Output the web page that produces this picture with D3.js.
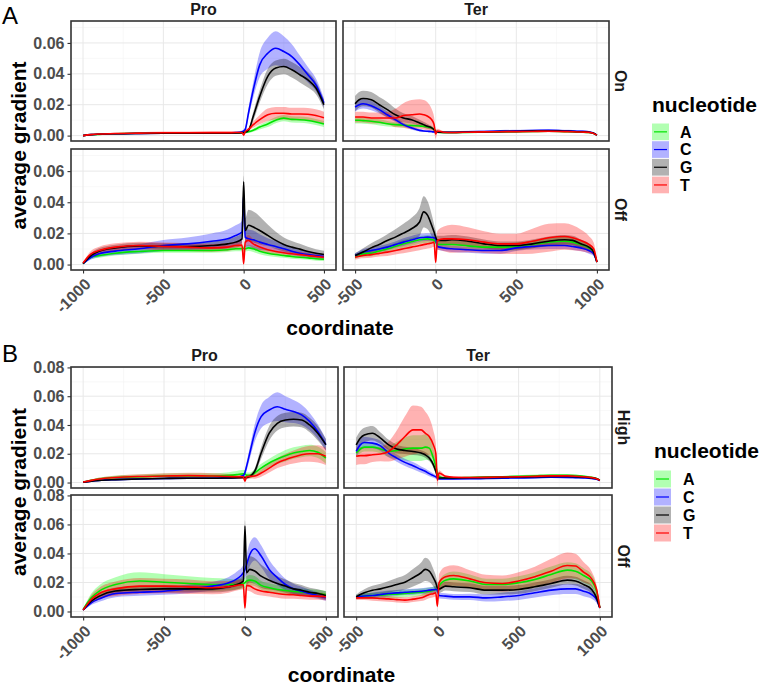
<!DOCTYPE html>
<html>
<head>
<meta charset="utf-8">
<script src="https://cdn.jsdelivr.net/npm/d3@7"></script>
<style>
body { margin: 0; background: #fff; }
svg { display: block; font-family: "Liberation Sans", Arial, sans-serif; }
</style>
</head>
<body>
<svg id="chart" width="762" height="685"></svg>
<script>
// values are average gradient x 1000, one row per nucleotide (A, C, G, T)
var nucleotides = ["A", "C", "G", "T"];
var proCoord = [-1000,-950,-900,-800,-650,-500,-350,-200,-100,-50,-10,0,10,30,60,100,150,200,250,300,350,400,450,500];
var terCoord = [-500,-475,-450,-400,-350,-300,-250,-200,-150,-100,-75,-50,-25,-10,0,10,50,100,200,300,400,500,600,700,800,850,900,950,980,1000];
var proTicks = [-1000, -500, 0, 500], proMinor = [-750, -250, 250];
var terTicks = [-500, 0, 500, 1000], terMinor = [-250, 250, 750];

// panel A, Pro, On
var aProOn = [
  [0,0.5,0.8,1.2,1.5,1.6,1.6,1.6,1.6,1.6,1.8,2,2.2,2.5,3.5,5.5,7.5,10,11.3,10.5,10.3,9.8,8.8,7.5],
  [0,0.6,0.9,1.2,1.4,1.5,1.5,1.5,1.6,1.9,2.5,3,4,14.6,29.7,45.8,53.3,56.6,54.4,51.2,45.8,39.4,32.9,21.2],
  [0,0.6,0.9,1.2,1.4,1.5,1.5,1.5,1.6,1.7,1.9,2,2.2,3.4,12.5,25.4,38.3,43.7,44.7,42.6,39.4,36.1,30.8,20],
  [0,0.6,1,1.4,1.6,1.8,1.8,1.9,1.9,2,2,0.3,2.5,4,7.1,10.3,13.5,14.5,14.5,14,14,13.8,13,11.5]
];
var aProOnSd = [
  [0,0.2,0.3,0.4,0.5,0.5,0.5,0.5,0.5,0.5,0.5,0.6,0.7,0.8,1,1.5,2,2,2,2,2,2,2,2],
  [0,0.2,0.3,0.4,0.5,0.5,0.5,0.5,0.5,0.6,0.8,1,1.5,3,5,8,10,11,10,8,6,5,4,3],
  [0,0.2,0.3,0.4,0.5,0.5,0.5,0.5,0.5,0.5,0.6,0.7,0.8,1,3,4,5,5,5,5,5,5,4,3],
  [0,0.2,0.4,0.5,0.6,0.8,0.8,0.8,0.7,0.7,0.7,0.7,0.8,1,2,3,4,4,4,4,4,4,4,4]
];
// panel A, Ter, On
var aTerOn = [
  [9.9,9.9,9.7,9.3,8.6,7.7,7.1,6.7,6.5,6.2,6,5.6,5,3.9,2.8,2.2,2.0,2.0,2.1,2.3,2.5,2.6,2.7,2.8,2.6,2.5,2.3,2.0,1.4,0.3],
  [18.5,20,20.6,19.4,16.8,13.5,10.3,7.1,5,3.4,3,2.8,2.6,2.4,2.2,2.3,2.2,2.2,2.5,2.7,2.9,3.1,3.3,3.4,3.1,3,2.8,2.4,1.6,0.3],
  [20.6,23.2,24,23.2,20,16.8,13.5,11.4,10.3,8.2,7.1,6,5,3.9,2.8,2.3,2.0,2.0,2.2,2.4,2.6,2.7,2.9,3.0,2.8,2.7,2.5,2.2,1.5,0.3],
  [12,12,12,11.4,11.4,11.4,11.4,13,13.5,14,13.5,12.5,10.3,7.1,1,3,2.2,2.0,2.2,2.4,2.5,2.6,2.7,2.8,2.6,2.5,2.3,2.1,1.4,0.3]
];
var aTerOnSd = [
  [2,2,2,2,2,1.8,1.6,1.4,1.2,1,1,1,0.9,0.8,0.6,0.5,0.5,0.5,0.5,0.5,0.5,0.5,0.5,0.5,0.5,0.5,0.5,0.5,0.4,0.2],
  [3,3,3,3,2.5,2,1.5,1.2,1,0.8,0.7,0.6,0.6,0.5,0.5,0.5,0.5,0.5,0.6,0.6,0.7,0.7,0.7,0.8,0.7,0.7,0.6,0.5,0.4,0.2],
  [5,5,5,5,5,5,4,3,2.5,2,1.8,1.5,1.2,1,0.8,0.5,0.5,0.5,0.5,0.5,0.5,0.5,0.5,0.5,0.5,0.5,0.5,0.5,0.4,0.2],
  [3.5,3.5,3.5,3.5,3.5,4,6,8,9.5,9.5,9.5,9,7,5,3,1.5,0.7,0.6,0.6,0.6,0.6,0.6,0.6,0.6,0.6,0.6,0.6,0.5,0.4,0.2]
];
// panel A, Pro, Off
var aProOff = [
  [0.6,4.7,5.8,7.3,8.4,9,9,9,9.5,10.1,10.1,10.5,10.1,10.7,10.1,8.6,7.3,6.4,5.8,5.2,4.7,4.3,3.7,3.4],
  [0.6,4.7,6.9,8.6,10.1,12.2,13.3,15,16.5,18.7,20.9,44.6,17.6,16.5,15.9,14.4,12.9,11.6,10.1,8.6,7.3,6.4,5.8,5.2],
  [0.6,5.8,8.6,10.7,12,11.6,11.6,12.2,13.3,14.4,16.5,53.2,21.9,25.2,24.1,21.9,18.7,15.5,12.9,11.2,9.9,8.4,7.3,6.4],
  [1,6.9,9,11.2,12.2,11.6,11.2,10.7,11.2,12.2,12.5,0.6,14.4,15.5,13.3,11.2,9.5,8.4,7.6,6.9,6.4,5.8,5.2,4.7]
];
var aProOffSd = [
  [0.3,1.2,1.5,1.5,1.5,1.5,1.5,1.5,1.5,1.5,1.5,1.5,1.8,2,2,2,1.8,1.6,1.5,1.4,1.3,1.2,1.2,1.2],
  [0.3,1.5,2,2.5,3,3.5,4,5,6,6.5,7,4,6,6,6,5,4,3.5,3,2.5,2,2,1.8,1.5],
  [0.3,1.5,2,2,2,2,2,2.5,3,3.5,4,4,8,10,10,9,7,5.5,4.5,4,3.5,3,2.5,2.5],
  [0.3,2,2.5,2.5,2.5,2.5,2.5,2.5,2.5,2.5,2.5,1,3,3.5,3,2.5,2.2,2,2,1.8,1.8,1.6,1.5,1.5]
];
// panel A, Ter, Off
var aTerOff = [
  [5.2,6.2,7,7.3,8.7,10.1,11.7,13.3,14.6,15.9,16.2,16.5,16,15.5,14.4,12.9,12.9,12.9,12,11.2,11.2,11.6,12.9,14.4,15,14.4,12.9,10.7,8,1.6],
  [5.8,7,8,9,10,11.2,12.8,14.4,15.8,17.2,17.4,17.6,17.4,17.2,16.5,11.6,10.7,10.1,9.5,9,9,10.7,11.6,12.2,12.2,11.6,10.7,9,6.9,1.6],
  [5.8,6.9,8,10.7,12.9,15.5,17.6,20.2,23,27.3,33.8,31.6,25.2,20.9,17.6,15.5,15.5,15.9,15,13.3,12.2,12.2,13.3,15,15.9,15.5,13.3,11.2,8,1.6],
  [4.7,5.3,5.8,6.4,7.2,8,9,10.1,11.2,12.2,12.8,13.3,13.8,14.4,1.5,15.5,16.5,16.5,15.9,14.4,13.3,13.3,15,17.2,18,17.2,15.5,12.9,10.1,1.6]
];
var aTerOffSd = [
  [1.5,1.5,2,2,2,2,2,2.5,2.5,2.5,2.5,2.5,2.5,2.5,2.5,2.5,2.5,2.5,2.5,2.5,2.5,2.5,2.5,2.8,2.8,2.8,2.5,2.5,2,0.5],
  [1.5,1.5,2,2,2,2,2,2.5,2.5,2.5,2.5,2.5,2.5,2.5,2.5,2,2,2,2,2,2,2,2,2.2,2.2,2.2,2,2,1.5,0.5],
  [1.5,2,2.5,3,3.5,4,5,6,7,9,10,9,7,5,4,3,3,3,3,2.8,2.6,2.6,2.8,3,3,3,2.8,2.5,2,0.5],
  [1.5,1.5,1.8,2,2,2.5,2.5,2.8,3,3,3,3,3,3,1,6,8,9,8,7,6.5,6.5,8,9,8.5,8,7,5.5,4,1]
];
// panel B, Pro, High
var bProHigh = [
  [0.3,1.5,2.5,3.5,4,4.5,4.5,4.5,5,5.5,6,6,5,5,6.6,10,13.6,16.3,18.6,20.5,21.6,22.3,21,17],
  [0.3,1,1.5,2,2.5,2.8,3,3,3.2,3.5,5,7,11.2,20.5,34.3,45.8,50.4,52.7,50.9,49.3,47,42.4,35.5,26.3],
  [0.3,1,1.5,2,2.5,2.8,3,3,3.2,3.3,3.5,3.5,3.5,4.3,7.7,20.5,34.3,41.2,43.5,44,43.5,40,34.3,26.3],
  [0.3,1.5,2.5,3.5,4.2,4.5,4.8,4.5,4.2,4,4,1,4,4.3,4.5,6.6,10,13.6,15.9,17.7,19.3,20,20,18.2]
];
var bProHighSd = [
  [0.2,0.6,1,1.3,1.5,1.8,2,2,2.2,2.5,2.8,2.5,2,2,2.5,3,3,3.5,4,4,4,4,4,4],
  [0.2,0.3,0.4,0.5,0.5,0.6,0.6,0.6,0.7,0.8,1.2,2,3,4,6,8,9,10,9,8,7,6,5,4],
  [0.2,0.3,0.4,0.5,0.5,0.6,0.6,0.6,0.7,0.8,0.9,1,1,1.2,2,4,5,5,5,5,5,5,5,4],
  [0.2,0.6,1,1.3,1.6,2,2,2,1.8,1.6,1.5,1,1.5,1.5,1.8,2.5,3,3.5,4,4.5,5,5.5,6,6]
];
// panel B, Ter, High
var bTerHigh = [
  [20.5,23.3,24.6,24.6,23.3,21.6,22.3,23.3,23.9,23.9,24.6,23.9,17,11.2,6.6,4.3,3.2,3.2,3.5,3.8,4,4.3,4.7,5.1,5.1,4.8,4.3,3.6,2.8,1.6],
  [21.6,26.2,27.8,27.4,25.5,20.5,17,14,11.7,9,7.8,6.2,4.8,3.9,3.2,2.5,2.5,2.5,2.6,2.8,3,3.2,3.4,3.7,3.6,3.4,3.2,2.8,2.3,1.4],
  [26.2,30.8,33.1,34.3,30.8,26.2,23.3,22.3,21.6,20.5,19.3,17,12.4,7.8,4.3,3.2,3.2,3.2,3.3,3.4,3.6,3.8,4,4.3,4.2,4,3.8,3.2,2.6,1.6],
  [18.2,18.7,18.7,19.3,19.8,21.6,26.2,32,36.6,36.6,34.3,32,26.2,20.5,1.6,6.6,4.3,3.7,3.5,3.6,3.8,4,4.3,4.6,4.6,4.4,4,3.4,2.6,1.5]
];
var bTerHighSd = [
  [3,3,3,3,3,4,6,8,9,9,9,8.5,7,5,3,1,0.6,0.6,0.6,0.6,0.6,0.7,0.8,0.8,0.8,0.8,0.7,0.6,0.4,0.2],
  [4,4,4,3.5,3.5,3,2.5,2.5,2.5,2.2,2,1.8,1.5,1.2,1,0.5,0.5,0.5,0.5,0.5,0.5,0.5,0.5,0.6,0.6,0.6,0.5,0.5,0.4,0.2],
  [5,5,5,5,4,3.5,3,2.5,2.5,2,2,2,1.5,1.2,1,0.5,0.5,0.5,0.5,0.5,0.5,0.5,0.5,0.6,0.6,0.6,0.5,0.5,0.4,0.2],
  [6,6,6,5,5,7,10,14,17,16,15,13,10,7,4,2,0.8,0.7,0.7,0.7,0.7,0.7,0.8,0.8,0.8,0.8,0.7,0.6,0.4,0.2]
];
// panel B, Pro, Off
var bProOff = [
  [1.4,9.4,14.1,18.6,21,20.2,19.3,18.6,18.6,18.6,19.3,19.8,20.9,21.6,21,18,16.4,15.2,14.5,13.8,13.3,12.9,12.4,11.7],
  [1,6,8.7,12.4,13.3,14,15.6,17.5,19.8,22.5,26.7,29,32.4,39.3,43.2,38.2,29,23.3,18.6,15.6,14,12.4,11,9.4],
  [1,7.1,10.6,14.1,15.2,15.6,15.6,15.6,17,18.6,21,58.9,26.7,29,27.9,24.4,21.6,19.3,17.5,15.6,14.7,13.3,12.4,11],
  [1,8.3,12.4,15.6,17.5,17.5,17,16.4,17,18,18.6,2.5,18,17.5,15.6,14.1,13.3,12.4,11.7,11.5,11,10.6,10.6,10.1]
];
var bProOffSd = [
  [0.5,3,4,5,6,5.5,5,4.5,4,3.5,3.5,3.5,3.5,3.5,3.5,3,3,3,2.8,2.6,2.5,2.5,2.5,2.5],
  [0.5,1.5,2,2.5,2.5,2.5,3,3,4,5,5.5,6,7,8,8,7.5,6.5,5,4,3.5,3,2.5,2.2,2],
  [0.5,1.5,2,2.5,2.5,2.5,2.5,2.5,3,3.5,4,4,8,9,9,8,6.5,5,4.5,4,3.5,3,3,3],
  [0.5,3,4,5,5.5,5,5,4.5,4,3.5,3.5,1,3.5,3.5,3.5,3,3,3,3,2.8,2.6,2.5,2.5,2.5]
];
// panel B, Ter, Off
var bTerOff = [
  [10.1,10.4,10.7,11,11.3,11.7,12,12.4,12.8,13.3,13.6,14,14.6,15.2,15.2,17.5,21.6,22.5,21,18.6,18.6,19.8,22.1,25.5,28.5,27.8,24.8,21,14,2.5],
  [10.1,10.4,10.7,11,11.7,12.4,12.8,13.3,13.6,14,14.3,14.7,15,15.2,15,11,10.6,10.1,10.1,9.4,10.1,11,12.9,14.7,15.6,15.6,14,11.7,8.3,2.5],
  [10.1,11.7,12.9,14.7,15.6,17,18.6,20.2,23.3,26.7,29,27.9,23.3,19.8,16.4,15.6,17.5,17,16.4,14.7,14.7,15.2,17,19.3,21.6,21,18.6,15.2,9.4,2.5],
  [9.4,9.4,9.4,9.4,9,8.7,8.2,7.8,8.5,9.4,10.5,11.7,12.3,12.9,3.7,19.8,23.9,24.8,22.5,19.8,19.3,21,23.9,27.8,31.7,31.3,27.1,22.5,15.2,2.5]
];
var bTerOffSd = [
  [1.5,1.5,2,2,2,2.5,2.5,2.5,2.5,2.5,2.5,2.5,2.5,2.5,2.5,3.5,4.5,5,4.5,4,4,4.5,5,5.5,5.5,5.5,5,4.5,3,1],
  [1.5,1.5,1.5,2,2,2,2,2,2,2,2,2,2,2,2,2,2,2,2.2,2.5,2.8,3,3.2,3.5,3.5,3.5,3.5,3,2.5,1],
  [1.5,2,2.5,3,3.5,4,4.5,5,6,7,8,7.5,6,5,4,3,3,3,3,3,3,3,3,3,3,3,3,3,2.5,1],
  [1.5,1.5,1.5,2,2,2,2,2,2,2.2,2.5,2.5,2.5,2.5,1,6,7,7,6,5.5,5.5,6,7,8.5,9,8.5,7,5,3,1]
];

var lineColour = {A: "#00e400", C: "#0000ff", G: "#000000", T: "#ff0000"};
var fillColour = {A: "#00ff00", C: "#0000ff", G: "#000000", T: "#ff0000"};

var blocks = [
  {
    tag: "A", tagY: 24, rows: ["On", "Off"],
    data: [[[aProOn, aProOnSd], [aTerOn, aTerOnSd]], [[aProOff, aProOffSd], [aTerOff, aTerOffSd]]],
    yDomain: [-3.5, 74.2], yTicks: [0, 20, 40, 60], yMinor: [10, 30, 50, 70],
    cols: [[71, 336], [343, 609]], rowsY: [[21, 141], [149, 270]],
    stripY: 15, xTitleY: 335, yTitleX: 26,
    legend: {x: 652, titleY: 112, keyY: 123, keyH: 17.7, labelX: 680}
  },
  {
    tag: "B", tagY: 362, rows: ["High", "Off"],
    data: [[[bProHigh, bProHighSd], [bTerHigh, bTerHighSd]], [[bProOff, bProOffSd], [bTerOff, bTerOffSd]]],
    yDomain: [-3.8, 80.3], yTicks: [0, 20, 40, 60, 80], yMinor: [10, 30, 50, 70],
    cols: [[71, 338], [344, 612]], rowsY: [[367, 488], [495, 617]],
    stripY: 361, xTitleY: 682, yTitleX: 26,
    legend: {x: 654, titleY: 458, keyY: 470, keyH: 18, labelX: 683}
  }
];

var svg = d3.select("#chart");
var clipCount = 0;
var fmtY = function(d){ return (d / 1000).toFixed(2); };

function drawPanel(block, r, c){
  var x0 = block.cols[c][0], x1 = block.cols[c][1];
  var y0 = block.rowsY[r][0], y1 = block.rowsY[r][1];
  var coord = c === 0 ? proCoord : terCoord;
  var x = d3.scaleLinear().domain(c === 0 ? [-1075, 575] : [-575, 1075]).range([x0, x1]);
  var y = d3.scaleLinear().domain(block.yDomain).range([y1, y0]);
  var major = c === 0 ? proTicks : terTicks, minor = c === 0 ? proMinor : terMinor;
  var means = block.data[r][c][0], sds = block.data[r][c][1];

  var id = "clip" + (clipCount++);
  svg.append("clipPath").attr("id", id)
    .append("rect").attr("x", x0).attr("y", y0).attr("width", x1 - x0).attr("height", y1 - y0);
  var g = svg.append("g");
  var plot = g.append("g").attr("clip-path", "url(#" + id + ")");

  plot.append("rect").attr("x", x0).attr("y", y0).attr("width", x1 - x0).attr("height", y1 - y0).attr("fill", "#fff");
  plot.selectAll("line.vminor").data(minor).enter().append("line")
    .attr("x1", x).attr("x2", x).attr("y1", y0).attr("y2", y1)
    .attr("stroke", "#f3f3f3").attr("stroke-width", 0.6);
  plot.selectAll("line.hminor").data(block.yMinor).enter().append("line")
    .attr("x1", x0).attr("x2", x1).attr("y1", y).attr("y2", y)
    .attr("stroke", "#f3f3f3").attr("stroke-width", 0.6);
  plot.selectAll("line.vmajor").data(major).enter().append("line")
    .attr("x1", x).attr("x2", x).attr("y1", y0).attr("y2", y1)
    .attr("stroke", "#e8e8e8").attr("stroke-width", 1);
  plot.selectAll("line.hmajor").data(block.yTicks).enter().append("line")
    .attr("x1", x0).attr("x2", x1).attr("y1", y).attr("y2", y)
    .attr("stroke", "#e8e8e8").attr("stroke-width", 1);

  var area = d3.area()
    .x(function(d){ return x(d.c); })
    .y0(function(d){ return y(d.m - d.s); })
    .y1(function(d){ return y(d.m + d.s); })
    .curve(d3.curveMonotoneX);
  var line = d3.line()
    .x(function(d){ return x(d.c); })
    .y(function(d){ return y(d.m); })
    .curve(d3.curveMonotoneX);

  var series = nucleotides.map(function(n, i){
    return {n: n, pts: coord.map(function(cv, j){ return {c: cv, m: means[i][j], s: sds[i][j]}; })};
  });
  series.forEach(function(s){
    plot.append("path").datum(s.pts).attr("d", area)
      .attr("fill", fillColour[s.n]).attr("fill-opacity", 0.3);
  });
  series.forEach(function(s){
    plot.append("path").datum(s.pts).attr("d", line)
      .attr("fill", "none").attr("stroke", lineColour[s.n]).attr("stroke-width", 1.6)
      .attr("stroke-linejoin", "round");
  });

  g.append("rect").attr("x", x0).attr("y", y0).attr("width", x1 - x0).attr("height", y1 - y0)
    .attr("fill", "none").attr("stroke", "#333").attr("stroke-width", 1.6);

  if (c === 0){
    var ya = g.append("g").attr("transform", "translate(" + x0 + ",0)")
      .call(d3.axisLeft(y).tickValues(block.yTicks).tickFormat(fmtY).tickSize(3.5).tickPadding(3));
    ya.select(".domain").remove();
    ya.selectAll(".tick line").attr("stroke", "#333").attr("stroke-width", 1.1);
    ya.selectAll(".tick text").attr("fill", "#4d4d4d").style("font-size", "16px").style("font-weight", "bold")
      .style("font-family", "Liberation Sans, Arial, sans-serif");
  }
  if (r === 1){
    var xa = g.append("g").attr("transform", "translate(0," + y1 + ")")
      .call(d3.axisBottom(x).tickValues(major).tickFormat(function(d){ return String(d); }).tickSize(3.5));
    xa.select(".domain").remove();
    xa.selectAll(".tick line").attr("stroke", "#333").attr("stroke-width", 1.1);
    xa.selectAll(".tick text")
      .attr("y", 0).attr("dy", "0.72em")
      .attr("transform", "translate(0,7) rotate(-45)")
      .attr("text-anchor", "end")
      .attr("fill", "#4d4d4d").style("font-size", "16px").style("font-weight", "bold")
      .style("font-family", "Liberation Sans, Arial, sans-serif");
  }
  if (r === 0){
    g.append("text").attr("x", (x0 + x1) / 2).attr("y", block.stripY)
      .attr("text-anchor", "middle").attr("fill", "#1a1a1a")
      .style("font-size", "16px").style("font-weight", "bold")
      .text(c === 0 ? "Pro" : "Ter");
  }
  if (c === 1){
    g.append("text")
      .attr("transform", "translate(" + (x1 + 6) + "," + ((y0 + y1) / 2) + ") rotate(90)")
      .attr("text-anchor", "middle").attr("fill", "#1a1a1a")
      .style("font-size", "16px").style("font-weight", "bold")
      .text(block.rows[r]);
  }
}

blocks.forEach(function(block){
  for (var r = 0; r < 2; r++) for (var c = 0; c < 2; c++) drawPanel(block, r, c);

  svg.append("text").attr("x", 2).attr("y", block.tagY)
    .style("font-size", "24px").attr("fill", "#000").text(block.tag);

  var left = block.cols[0][0], right = block.cols[1][1];
  var top = block.rowsY[0][0], bottom = block.rowsY[1][1];
  svg.append("text").attr("x", (left + right) / 2).attr("y", block.xTitleY)
    .attr("text-anchor", "middle").style("font-size", "21px").style("font-weight", "bold")
    .text("coordinate");
  svg.append("text")
    .attr("transform", "translate(" + block.yTitleX + "," + ((top + bottom) / 2) + ") rotate(-90)")
    .attr("text-anchor", "middle").style("font-size", "21px").style("font-weight", "bold")
    .text("average gradient");

  var lg = block.legend;
  var leg = svg.append("g");
  leg.append("text").attr("x", lg.x).attr("y", lg.titleY)
    .style("font-size", "21px").style("font-weight", "bold").text("nucleotide");
  nucleotides.forEach(function(n, i){
    var ky = lg.keyY + i * lg.keyH;
    leg.append("rect").attr("x", lg.x).attr("y", ky + 0.5).attr("width", 17).attr("height", lg.keyH - 1)
      .attr("fill", fillColour[n]).attr("fill-opacity", 0.3);
    leg.append("line").attr("x1", lg.x + 2).attr("x2", lg.x + 15)
      .attr("y1", ky + lg.keyH / 2).attr("y2", ky + lg.keyH / 2)
      .attr("stroke", lineColour[n]).attr("stroke-width", 1.2);
    leg.append("text").attr("x", lg.labelX).attr("y", ky + lg.keyH / 2).attr("dy", "0.36em")
      .style("font-size", "16px").style("font-weight", "bold").text(n);
  });
});
</script>
</body>
</html>
